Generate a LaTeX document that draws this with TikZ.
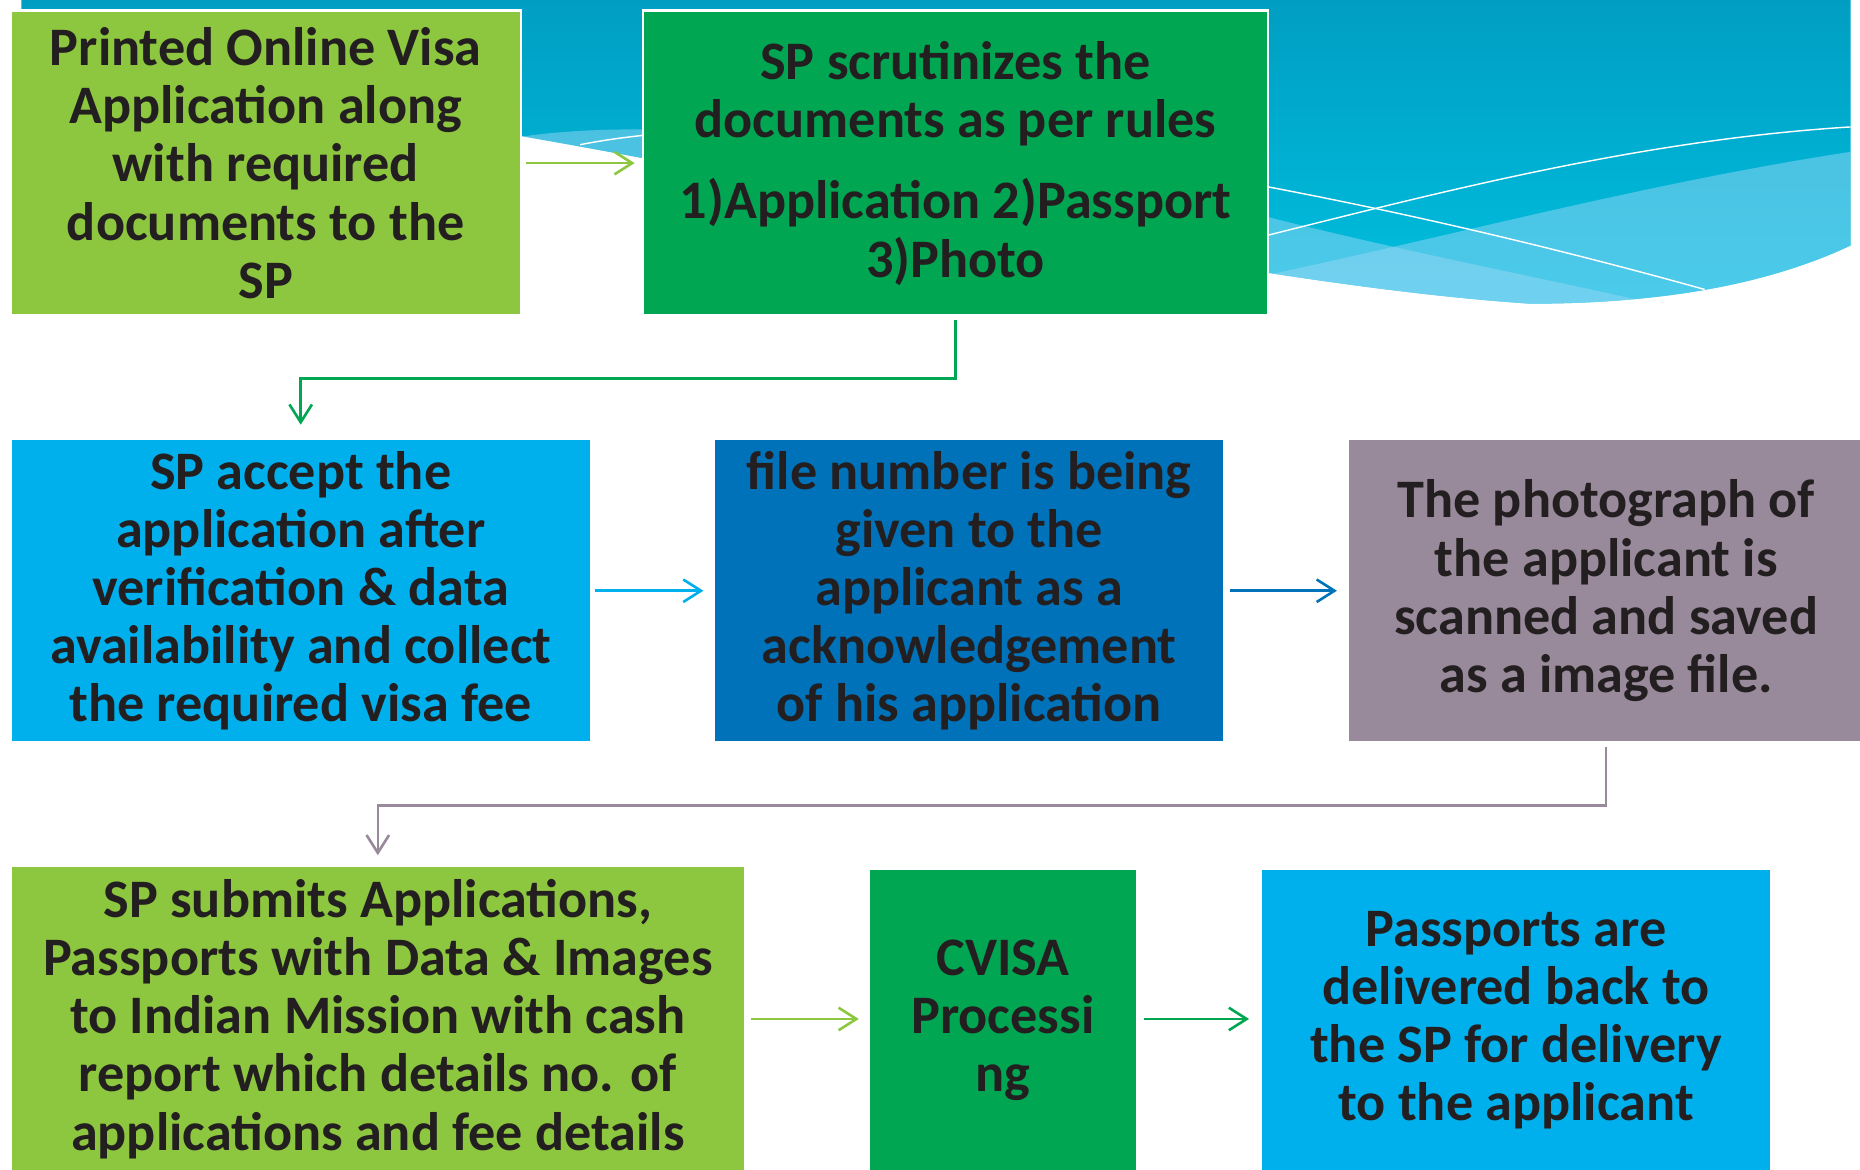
\documentclass[tikz,border=0pt]{standalone}
\usepackage{fontspec}
\setmainfont{Carlito}
\usepackage{tikz}
\usetikzlibrary{arrows.meta}

\definecolor{lgreen}{RGB}{141,198,63}
\definecolor{dgreen}{RGB}{0,166,81}
\definecolor{skyblue}{RGB}{0,176,236}
\definecolor{navyblue}{RGB}{0,114,185}
\definecolor{mauve}{RGB}{152,138,154}
\definecolor{ink}{RGB}{35,31,32}
\definecolor{tealtop}{RGB}{0,158,194}
\definecolor{tealbot}{RGB}{0,192,224}
\definecolor{wavelight}{RGB}{150,215,245}

\begin{document}
\begin{tikzpicture}[x=1pt,y=-1pt,
    box/.style={draw=white, line width=2pt, text=ink, align=center, inner sep=0pt,
        anchor=north west, font=\bfseries\fontsize{45.7pt}{49pt}\selectfont},
    flow/.style={line width=2.2pt, -{Straight Barb[length=15pt,width=19pt]}}]
			\useasboundingbox (0,0) rectangle (1568,985.5);
			% wave in the background
			\begin{scope}
				\clip (18,0) -- (1560,0) -- (1560,207) .. controls (1490,240) and (1400,256) .. (1290,256)
					.. controls (1050,240) and (700,160) .. (441,115) .. controls (300,92) and (100,75) .. (18,70) -- cycle;
				\shade[top color=tealtop, bottom color=tealbot] (0,0) rectangle (1568,265);
				\fill[wavelight, opacity=.5] (441,115) .. controls (600,92) and (900,140) .. (1073,184)
					.. controls (1200,216) and (1330,240) .. (1420,262) -- (1420,300) -- (400,300) -- cycle;
				\fill[wavelight, opacity=.5] (950,255) .. controls (1150,220) and (1350,160) .. (1560,128)
					-- (1600,128) -- (1600,300) -- (950,300) -- cycle;
			\end{scope}
			\draw[white, line width=1.2pt] (489,122) .. controls (700,80) and (1100,150) .. (1437,244);
			\draw[white, line width=1.2pt] (1000,215) .. controls (1150,180) and (1350,120) .. (1560,107);
			% boxes
			\node[box, fill=lgreen, minimum width=430pt, minimum height=257pt] (online) at (8,8)
				{Printed Online Visa\\Application along\\with required\\documents to the\\SP};
			\node[box, fill=dgreen, minimum width=527pt, minimum height=257pt] (scrutiny) at (541,8)
				{SP scrutinizes the\\documents as per rules\\[20pt]1)Application 2)Passport\\3)Photo};
			\node[box, fill=skyblue, minimum width=489pt, minimum height=256pt] (accept) at (8,369)
				{SP accept the\\application after\\verification \& data\\availability and collect\\the required visa fee};
			\node[box, fill=navyblue, minimum width=430pt, minimum height=256pt] (fileno) at (601,369)
				{file number is being\\given to the\\applicant as a\\acknowledgement\\of his application};
			\node[box, fill=mauve, minimum width=436pt, minimum height=256pt] (photo) at (1135,369)
				{The photograph of\\the applicant is\\scanned and saved\\as a image file.};
			\node[box, fill=lgreen, minimum width=619pt, minimum height=258pt] (submit) at (8,729)
				{SP submits Applications,\\Passports with Data \& Images\\to Indian Mission with cash\\report which details no. of\\applications and fee details};
			\node[box, fill=dgreen, minimum width=227pt, minimum height=256pt] (cvisa) at (731,731)
				{CVISA\\Processi\\ng};
			\node[box, fill=skyblue, minimum width=430pt, minimum height=256pt] (deliver) at (1062,731)
				{Passports are\\delivered back to\\the SP for delivery\\to the applicant};
			% connectors
			\draw[flow, lgreen, shorten <=3pt, shorten >=6pt] (online) -- (scrutiny);
			\draw[flow, dgreen, shorten <=3pt, shorten >=11pt] (scrutiny.south) -- ++(0,52) -| (accept.north);
			\draw[flow, skyblue, shorten <=3pt, shorten >=8pt] (accept) -- (fileno);
			\draw[flow, navyblue, shorten <=4pt, shorten >=8pt] (fileno) -- (photo);
			\draw[flow, mauve, shorten <=3pt, shorten >=8pt] (photo.south) -- ++(0,52) -| (submit.north);
			\draw[flow, lgreen, shorten <=4pt, shorten >=7pt] (submit.east) -- (submit.east -| cvisa.west);
			\draw[flow, dgreen, shorten <=4pt, shorten >=9pt] (submit.east -| cvisa.east) -- (submit.east -| deliver.west);
		\end{tikzpicture}
\end{document}
